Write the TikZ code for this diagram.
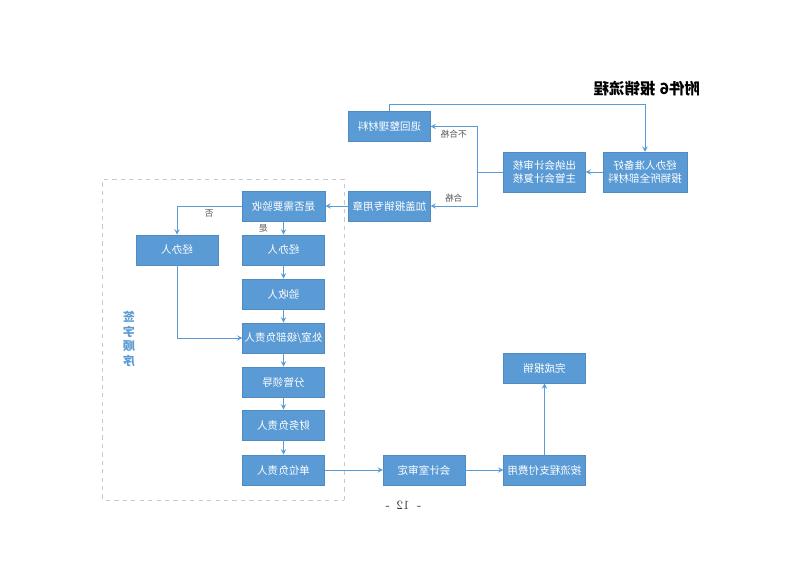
\documentclass[tikz,border=0pt]{standalone}
\usepackage{fontspec}
\usepackage{tikz}
\newfontfamily\cjk{Noto Sans CJK SC}
\definecolor{boxblue}{HTML}{5B9BD5}
\definecolor{lineblue}{HTML}{5B9BD5}
\definecolor{framegray}{HTML}{C8C8C8}

\begin{document}
\begin{tikzpicture}[x = 0.025cm, y = 0.025cm, xscale = -1, every node/.append style = {transform shape},
  box/.style = {fill = boxblue, draw = boxblue!90!black, line width = 0.3pt, text = white, align = center,
    minimum width = 2.04cm, minimum height = 0.76cm, inner sep = 1pt, font = \cjk\fontsize{7.5}{9.5}\selectfont},
  line/.style = {draw = lineblue, line width = 0.7pt},
  arr/.style = {line, -stealth},
  lbl/.style = {font = \cjk\fontsize{6.2}{7}\selectfont, text = black!65, inner sep = 2pt}]
\useasboundingbox (0, 0) rectangle (800, 566);
% title and frame
\node[anchor = west, font = \cjk\bfseries\fontsize{11}{13}\selectfont] (title) at (95, 477) {附件6\hspace{3pt}报销流程};
\draw[framegray, dashed, line width = 0.7pt] (456, 66) rectangle (697, 387);
\node[align = center, text = boxblue, font = \cjk\bfseries\fontsize{8.5}{10.5}\selectfont] (order) at (671, 227) {签\\字\\顺\\序};
\node[font = \fontsize{9}{10}\selectfont, text = black!80] (page) at (397, 61) {-\hspace{5pt}12\hspace{5pt}-};
% boxes
\node[box, minimum width = 2.1cm, minimum height = 1cm] (prep) at (155, 394) {经办人准备好\\报销所全部材料};
\node[box, minimum height = 1cm] (audit) at (255.5, 394) {出纳会计审核\\主管会计复核};
\node[box] (back) at (410.5, 439.5) {退回整理材料};
\node[box] (stamp) at (410.5, 360) {加盖报销专用章};
\node[box, minimum width = 2.08cm] (check) at (516.5, 360) {是否需要验收};
\node[box] (jbr) at (516.5, 316) {经办人};
\node[box] (jbrb) at (623, 316) {经办人};
\node[box] (ysr) at (516.5, 272) {验收人};
\node[box] (chs) at (516.5, 228) {处室/级部负责人};
\node[box] (fgld) at (516.5, 184) {分管领导};
\node[box] (cwfz) at (516.5, 141) {财务负责人};
\node[box] (dwfz) at (516.5, 96) {单位负责人};
\node[box] (kjs) at (376, 96) {会计室审定};
\node[box] (pay) at (255.5, 96) {按流程支付费用};
\node[box] (done) at (255.5, 198) {完成报销};
% connectors
\coordinate (split) at (323, 394);
\draw[arr] (back.north) -- ++(0, 7) -| (prep.north);
\draw[arr] (prep.east) -- (audit.west);
\draw[line] (audit.east) -- (split);
\draw[arr] (split) |- (back.west) node[lbl, pos = 0.75, below] {不合格};
\draw[arr] (split) |- (stamp.west) node[lbl, pos = 0.75, above] {合格};
\draw[arr] (stamp.east) -- (check.west);
\draw[arr] (check.south) -- (jbr.north) node[lbl, midway, right = 9pt] {是};
\draw[arr] (check.east) -| (jbrb.north) node[lbl, pos = 0.25, below] {否};
\foreach \a/\b in {jbr/ysr, ysr/chs, chs/fgld, fgld/cwfz, cwfz/dwfz}{\draw[arr] (\a) -- (\b);}
\draw[arr] (jbrb.south) |- (chs.east);
\draw[arr] (dwfz.west) -- (kjs.east);
\draw[arr] (kjs.west) -- (pay.east);
\draw[arr] (pay.north) -- (done.south);
\end{tikzpicture}
\end{document}
